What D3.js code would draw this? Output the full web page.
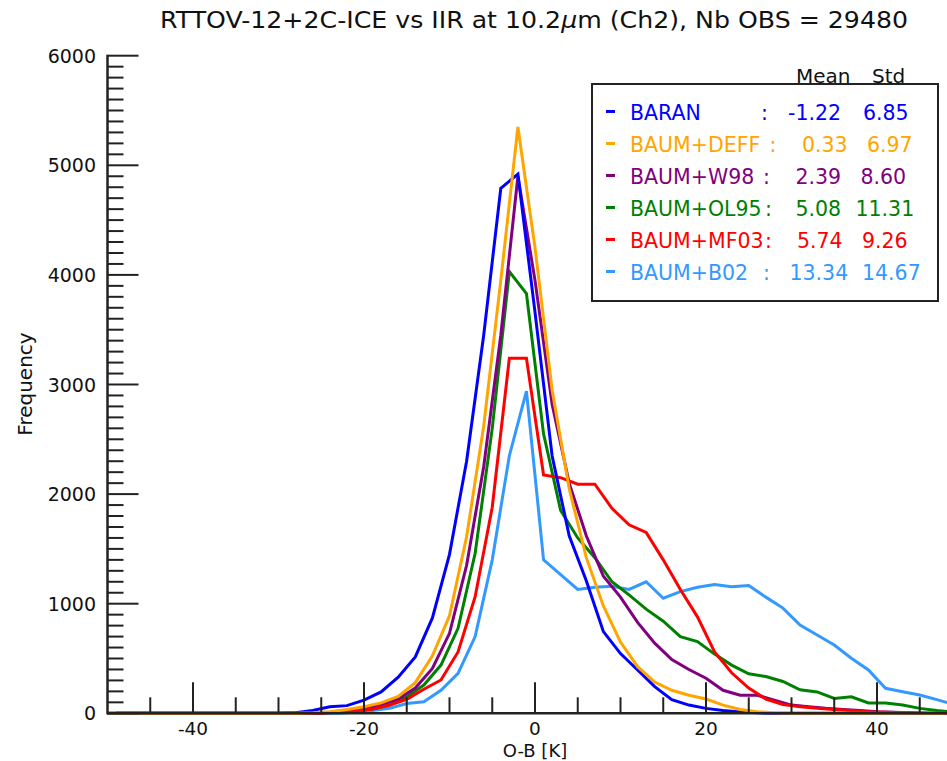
<!DOCTYPE html>
<html><head><meta charset="utf-8">
<script src="https://cdn.jsdelivr.net/npm/d3@7"></script>
<style>body{margin:0;background:#fff}svg{display:block}text{font-family:"DejaVu Sans",sans-serif}</style>
</head><body>
<script>
const binsEven = [-50,-48,-46,-44,-42,-40,-38,-36,-34,-32,-30,-28,-26,-24,-22,-20,-18,-16,-14,-12,-10,-8,-6,-4,-2,0,2,4,6,8,10,12,14,16,18,20,22,24,26,28,30,32,34,36,38,40,42,44,46,48];
const binsOdd = [-49,-47,-45,-43,-41,-39,-37,-35,-33,-31,-29,-27,-25,-23,-21,-19,-17,-15,-13,-11,-9,-7,-5,-3,-1,1,3,5,7,9,11,13,15,17,19,21,23,25,27,29,31,33,35,37,39,41,43,45,47,49];

const baran = [0,0,0,0,0,0,0,0,0,0,0,5,25,60,70,120,195,330,515,870,1450,2300,3450,4790,4920,3660,2350,1620,1210,745,545,395,243,125,75,45,25,12,5,0,0,0,0,0,0,0,0,0,0,0];
const baumDeff = [0,0,0,0,0,0,0,0,0,0,0,0,5,15,35,60,95,155,280,525,890,1610,2620,3950,5350,4250,2950,2050,1420,980,650,425,285,210,165,130,75,35,15,5,0,0,0,0,0,0,0,0,0,0];
const baumW98 = [0,0,0,0,0,0,0,0,0,0,0,0,0,10,25,40,80,130,230,410,730,1350,2250,3450,4900,3950,2820,2100,1620,1250,1060,830,640,490,400,320,210,165,165,120,75,60,45,35,25,15,10,5,0,0];
const baumOl95 = [0,0,0,0,0,0,0,0,0,0,0,0,5,10,20,40,76,150,258,440,775,1460,2600,4030,3830,2550,1850,1600,1420,1200,1080,950,840,700,655,540,440,360,335,290,215,195,135,150,95,95,75,45,25,10];
const baumMf03 = [0,0,0,0,0,0,0,0,0,0,0,0,0,10,20,40,76,128,219,304,560,1064,1880,3240,3240,2175,2150,2090,2090,1870,1720,1650,1400,1130,880,560,370,230,130,80,60,45,35,25,15,10,5,0,0,0];
const baumB02 = [0,0,0,0,0,0,0,0,0,0,0,0,0,0,10,25,46,90,106,210,365,700,1400,2350,2940,1400,1265,1130,1150,1160,1130,1200,1050,1110,1150,1175,1155,1165,1060,960,806,714,623,502,395,228,197,167,125,80];

const seriesNames = ["BARAN","BAUM+DEFF","BAUM+W98","BAUM+OL95","BAUM+MF03","BAUM+B02"];
const seriesMeans = ["-1.22","0.33","2.39","5.08","5.74","13.34"];
const seriesStds = ["6.85","6.97","8.60","11.31","9.26","14.67"];
const seriesColors = ["#0000ff","#ffa500","#800080","#008000","#ff0000","#3399ff"];
const seriesValues = [baran, baumDeff, baumW98, baumOl95, baumMf03, baumB02];
const seriesBins = [binsEven, binsEven, binsEven, binsOdd, binsOdd, binsOdd];
const drawOrder = [5,3,2,4,0,1];

const xTicksMajor = [-40,-20,0,20,40];
const yTicksMajor = [0,1000,2000,3000,4000,5000,6000];

// layout (not data)
const legendRowLayout = [
  {colon:761, mean:788, std:863},
  {colon:769.5, mean:802, std:867},
  {colon:763, mean:795.5, std:860.5},
  {colon:765, mean:795.5, std:855.5},
  {colon:765, mean:797, std:862},
  {colon:763, mean:789.5, std:862}
];

const W = 947, H = 761;
const svg = d3.select("body").append("svg").attr("width", W).attr("height", H);

const x = d3.scaleLinear().domain([-50, 50]).range([107.5, 962.5]);
const y = d3.scaleLinear().domain([0, 6000]).range([713.3, 55.7]);

// lines
const line = d3.line().x(d => x(d[0])).y(d => y(d[1]));
drawOrder.forEach(i => {
  const pts = seriesBins[i].map((b, k) => [b, seriesValues[i][k]]);
  svg.append("path").datum(pts).attr("d", line)
    .attr("fill", "none").attr("stroke", seriesColors[i])
    .attr("stroke-width", 3).attr("stroke-linejoin", "miter");
});

// x axis
const axisColor = "#222";
const xAxis = svg.append("g");
xAxis.append("line").attr("x1", x(-50)).attr("x2", W).attr("y1", y(0)).attr("y2", y(0))
  .attr("stroke", axisColor).attr("stroke-width", 2.5);
const xMinor = d3.range(-45, 50, 5).filter(v => xTicksMajor.indexOf(v) < 0);
xAxis.selectAll(".xminor").data(xMinor).enter().append("line")
  .attr("x1", d => x(d)).attr("x2", d => x(d)).attr("y1", y(0)).attr("y2", y(0) - 16)
  .attr("stroke", axisColor).attr("stroke-width", 2);
xAxis.selectAll(".xmajor").data(xTicksMajor).enter().append("line")
  .attr("x1", d => x(d)).attr("x2", d => x(d)).attr("y1", y(0)).attr("y2", y(0) - 31)
  .attr("stroke", axisColor).attr("stroke-width", 2);
xAxis.selectAll(".xlab").data(xTicksMajor).enter().append("text")
  .attr("x", d => x(d)).attr("y", 735).attr("text-anchor", "middle")
  .attr("font-size", 18.5).attr("fill", "#111").text(d => d);

// y axis
const yAxis = svg.append("g");
yAxis.append("line").attr("x1", x(-50)).attr("x2", x(-50)).attr("y1", y(6000) - 1).attr("y2", y(0) + 1)
  .attr("stroke", axisColor).attr("stroke-width", 2.5);
const yMinor = d3.range(100, 6000, 100).filter(v => v % 1000 !== 0);
yAxis.selectAll(".yminor").data(yMinor).enter().append("line")
  .attr("x1", x(-50)).attr("x2", x(-50) + 16).attr("y1", d => y(d)).attr("y2", d => y(d))
  .attr("stroke", axisColor).attr("stroke-width", 2);
yAxis.selectAll(".ymajor").data(yTicksMajor).enter().append("line")
  .attr("x1", x(-50)).attr("x2", x(-50) + 31).attr("y1", d => y(d)).attr("y2", d => y(d))
  .attr("stroke", axisColor).attr("stroke-width", 2);
yAxis.selectAll(".ylab").data(yTicksMajor).enter().append("text")
  .attr("x", 96).attr("y", d => y(d) + 7).attr("text-anchor", "end")
  .attr("font-size", 19).attr("fill", "#111").text(d => d);

// axis titles
svg.append("text").attr("x", x(0)).attr("y", 756.5).attr("text-anchor", "middle")
  .attr("font-size", 18).attr("fill", "#111").text("O-B [K]");
svg.append("text").attr("transform", "translate(32,384) rotate(-90)").attr("text-anchor", "middle")
  .attr("font-size", 20).attr("fill", "#111").text("Frequency");

// title
const title = svg.append("text").attr("x", 160).attr("y", 28).attr("font-size", 23).attr("fill", "#111")
  .attr("textLength", 748).attr("lengthAdjust", "spacingAndGlyphs");
title.append("tspan").text("RTTOV-12+2C-ICE vs IIR at 10.2");
title.append("tspan").attr("font-style", "italic").text("\u03BC");
title.append("tspan").text("m (Ch2), Nb OBS = 29480");

// legend
svg.append("rect").attr("x", 592).attr("y", 84).attr("width", 346).attr("height", 217)
  .attr("fill", "#fff").attr("stroke", "#222").attr("stroke-width", 2);
svg.append("text").attr("x", 796).attr("y", 83).attr("font-size", 20).attr("fill", "#111").text("Mean");
svg.append("text").attr("x", 872).attr("y", 83).attr("font-size", 20).attr("fill", "#111").text("Std");
seriesNames.forEach((name, i) => {
  const by = 120 + i * 32;
  const L = legendRowLayout[i];
  const c = seriesColors[i];
  svg.append("rect").attr("x", 606).attr("y", by - 10).attr("width", 9).attr("height", 3).attr("fill", c);
  svg.append("text").attr("x", 630).attr("y", by).attr("font-size", 20.5).attr("fill", c).text(name);
  svg.append("text").attr("x", L.colon).attr("y", by).attr("font-size", 20.5).attr("fill", c).text(":");
  svg.append("text").attr("x", L.mean).attr("y", by).attr("font-size", 20.5).attr("fill", c).text(seriesMeans[i]);
  svg.append("text").attr("x", L.std).attr("y", by).attr("font-size", 20.5).attr("fill", c).text(seriesStds[i]);
});
</script>
</body></html>
